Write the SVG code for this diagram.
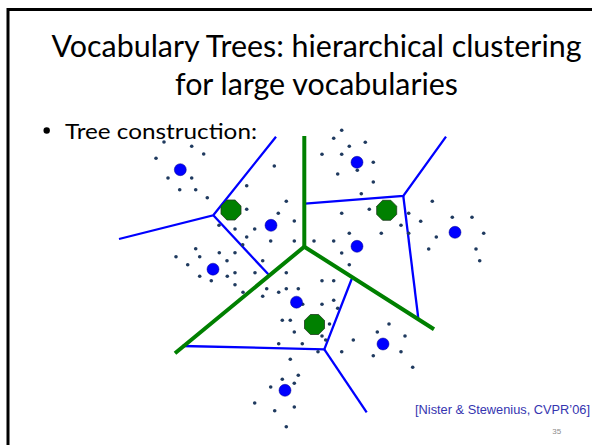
<svg xmlns="http://www.w3.org/2000/svg" width="592" height="445" viewBox="0 0 592 445">
<style>
.t{font-family:Lato,"Open Sans","Liberation Sans",sans-serif;fill:#000}
.d{fill:#1f3a5f}
.c{fill:#0000ff;stroke:#00008b;stroke-width:0.5}
.o{fill:#008000;stroke:#1e3a1e;stroke-width:0.8}
.g{stroke:#008000;stroke-width:4;fill:none;stroke-linecap:butt}
.b{stroke:#0000ff;stroke-width:2.3;fill:none;stroke-linejoin:miter}
</style>
<defs>
<circle id="dt" r="1.8" class="d"/>
<polygon id="oct" class="o" points="4.1,-10 10,-4.1 10,4.1 4.1,10 -4.1,10 -10,4.1 -10,-4.1 -4.1,-10"/>
</defs>
<rect x="0" y="0" width="592" height="445" fill="#fff"/>
<path d="M8,445 V9.5 H600" fill="none" stroke="#000" stroke-width="3"/>
<g id="title">
<text class="t" x="316.5" y="57" font-size="30" text-anchor="middle" textLength="530" lengthAdjust="spacingAndGlyphs">Vocabulary Trees: hierarchical clustering</text>
<text class="t" x="316.5" y="95" font-size="30" text-anchor="middle" textLength="283" lengthAdjust="spacingAndGlyphs">for large vocabularies</text>
</g>
<g id="bullet">
<circle cx="46.7" cy="130.5" r="3.2" fill="#000"/>
<text class="t" x="65" y="138.5" font-size="21" textLength="192" lengthAdjust="spacingAndGlyphs">Tree construction:</text>
</g>
<g id="connectors">
<polyline class="b" points="276,136.7 213.3,215.3 119,239"/>
<line class="b" x1="213.3" y1="215.3" x2="268.3" y2="274.3"/>
<polyline class="b" points="305,203.7 403.3,196 446,136.7"/>
<line class="b" x1="403.3" y1="196" x2="418.3" y2="318.3"/>
<polyline class="b" points="182.3,346 324.3,349.3 351.7,279"/>
<line class="b" x1="324.3" y1="349.3" x2="366.7" y2="412.3"/>
<line class="g" x1="304.3" y1="136" x2="304.3" y2="246.7"/>
<polyline class="g" points="175,353.3 304.3,246.7 434,329.3"/>
</g>
<g id="points">
<use href="#dt" x="164" y="142"/><use href="#dt" x="191.7" y="146.3"/><use href="#dt" x="203.7" y="154"/>
<use href="#dt" x="156" y="158.3"/><use href="#dt" x="168" y="178"/><use href="#dt" x="191.7" y="178"/>
<use href="#dt" x="179.7" y="189.7"/><use href="#dt" x="195.7" y="189.7"/><use href="#dt" x="207.3" y="197.7"/>
<use href="#dt" x="274.3" y="166"/><use href="#dt" x="246.7" y="185.7"/><use href="#dt" x="286.3" y="201.3"/>
<use href="#dt" x="246.7" y="209.3"/><use href="#dt" x="278.3" y="213.3"/><use href="#dt" x="294.3" y="221"/>
<use href="#dt" x="219" y="225.3"/><use href="#dt" x="235" y="229"/><use href="#dt" x="254.7" y="229"/>
<use href="#dt" x="246.7" y="237"/><use href="#dt" x="270.7" y="241"/><use href="#dt" x="294.3" y="241"/>
<use href="#dt" x="242.7" y="244.7"/><use href="#dt" x="195.7" y="248.7"/><use href="#dt" x="176" y="256.7"/>
<use href="#dt" x="199.7" y="256.7"/><use href="#dt" x="219.3" y="252.7"/><use href="#dt" x="235" y="252.7"/>
<use href="#dt" x="227" y="260.7"/><use href="#dt" x="187.7" y="264.7"/><use href="#dt" x="262.7" y="260.7"/>
<use href="#dt" x="341.7" y="130.3"/><use href="#dt" x="333.7" y="138.3"/><use href="#dt" x="349.3" y="146.3"/>
<use href="#dt" x="365.3" y="142.3"/><use href="#dt" x="322" y="154.3"/><use href="#dt" x="341.7" y="154.3"/>
<use href="#dt" x="373.3" y="162.3"/><use href="#dt" x="357.3" y="170.3"/><use href="#dt" x="337.7" y="174"/>
<use href="#dt" x="373.3" y="182"/><use href="#dt" x="361.3" y="193.7"/><use href="#dt" x="369.3" y="209.3"/>
<use href="#dt" x="341.7" y="213.3"/><use href="#dt" x="408.7" y="213.3"/><use href="#dt" x="420.7" y="221.3"/>
<use href="#dt" x="401" y="225.3"/><use href="#dt" x="432.3" y="201.3"/><use href="#dt" x="452.3" y="217.3"/>
<use href="#dt" x="472" y="217.3"/><use href="#dt" x="349.3" y="233.3"/><use href="#dt" x="381.3" y="233.3"/>
<use href="#dt" x="408.7" y="233.3"/><use href="#dt" x="436.3" y="237"/><use href="#dt" x="483.7" y="233.3"/>
<use href="#dt" x="314" y="241"/><use href="#dt" x="333.7" y="241"/><use href="#dt" x="341.7" y="253"/>
<use href="#dt" x="428.7" y="249"/><use href="#dt" x="476" y="249"/><use href="#dt" x="479.7" y="260.7"/>
<use href="#dt" x="349.3" y="264.7"/>
<use href="#dt" x="199.7" y="276.3"/><use href="#dt" x="211.3" y="280.7"/><use href="#dt" x="227.3" y="276.3"/>
<use href="#dt" x="235" y="272.7"/><use href="#dt" x="235" y="284.7"/><use href="#dt" x="243" y="292.3"/>
<use href="#dt" x="255" y="272.7"/><use href="#dt" x="286.3" y="272.7"/><use href="#dt" x="322" y="280.7"/>
<use href="#dt" x="333.7" y="280.7"/><use href="#dt" x="266.7" y="288.7"/><use href="#dt" x="278.7" y="292.3"/>
<use href="#dt" x="286.3" y="288.7"/><use href="#dt" x="298.3" y="288.7"/><use href="#dt" x="262.7" y="296.3"/>
<use href="#dt" x="302.7" y="304.3"/><use href="#dt" x="322" y="304.3"/><use href="#dt" x="333.7" y="300.3"/>
<use href="#dt" x="337.7" y="308.3"/><use href="#dt" x="282.3" y="320.3"/><use href="#dt" x="290.3" y="320.3"/>
<use href="#dt" x="294.3" y="332"/><use href="#dt" x="329.5" y="324"/><use href="#dt" x="322" y="336"/>
<use href="#dt" x="325.7" y="340"/><use href="#dt" x="278.7" y="343.7"/><use href="#dt" x="302.3" y="343.7"/>
<use href="#dt" x="318" y="351.7"/><use href="#dt" x="341.7" y="351.7"/><use href="#dt" x="353.3" y="340"/>
<use href="#dt" x="290.3" y="359.3"/><use href="#dt" x="298.3" y="375.3"/><use href="#dt" x="282.3" y="379.3"/>
<use href="#dt" x="294.3" y="383.3"/><use href="#dt" x="270.7" y="387"/><use href="#dt" x="254.7" y="403"/>
<use href="#dt" x="274.7" y="410.7"/><use href="#dt" x="294.3" y="407"/><use href="#dt" x="286.3" y="426.7"/>
<use href="#dt" x="377.3" y="332"/><use href="#dt" x="389" y="324"/><use href="#dt" x="405" y="336"/>
<use href="#dt" x="373.3" y="355.7"/><use href="#dt" x="401" y="351.7"/><use href="#dt" x="412.7" y="367.3"/>
</g>
<g id="leaf-centers">
<circle class="c" cx="180.3" cy="169.7" r="6"/>
<circle class="c" cx="271" cy="225.3" r="6"/>
<circle class="c" cx="213" cy="269.2" r="6"/>
<circle class="c" cx="357" cy="162.3" r="6"/>
<circle class="c" cx="455" cy="232.3" r="6"/>
<circle class="c" cx="357" cy="246.3" r="6"/>
<circle class="c" cx="296.5" cy="302.2" r="6"/>
<circle class="c" cx="285" cy="390.3" r="6"/>
<circle class="c" cx="383" cy="344" r="6"/>
</g>
<g id="top-centers">
<use href="#oct" x="231" y="210"/>
<use href="#oct" x="386.7" y="210.3"/>
<use href="#oct" x="314.5" y="324.5"/>
</g>
<g id="citation">
<text x="415" y="414" font-family="Liberation Sans,Arial,sans-serif" font-size="12.5" fill="#3535b0" textLength="175" lengthAdjust="spacingAndGlyphs">[Nister &amp; Stewenius, CVPR’06]</text>
<text x="556.7" y="434" font-family="Liberation Sans,Arial,sans-serif" font-size="8" fill="#8c8c8c" text-anchor="middle">35</text>
</g>
</svg>
